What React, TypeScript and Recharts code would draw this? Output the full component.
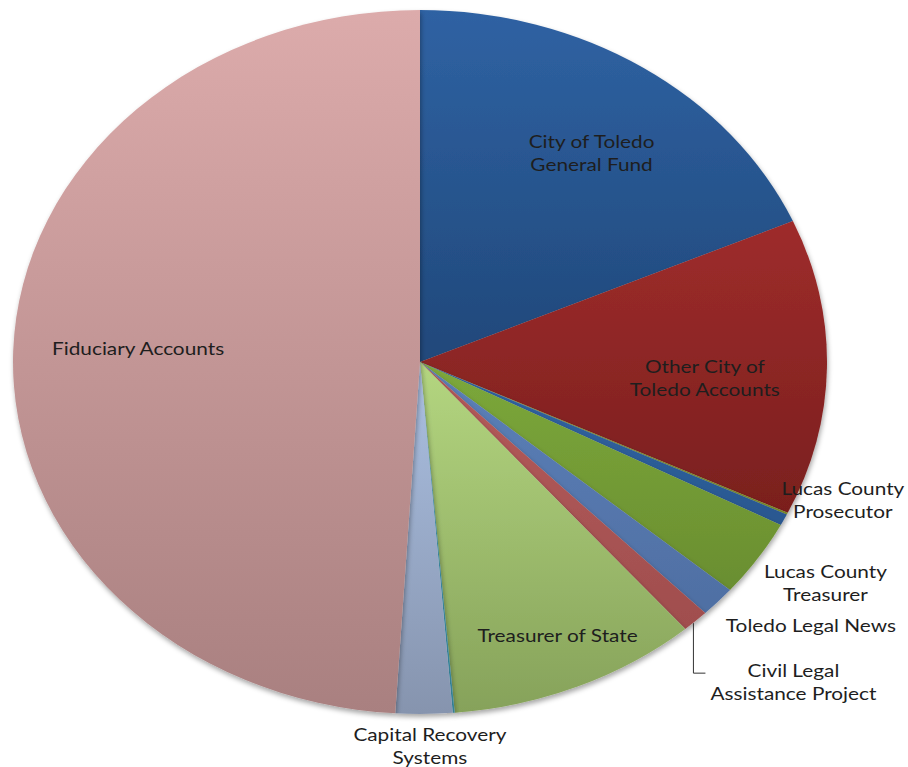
import React from 'react';
import { PieChart, Pie, Cell } from 'recharts';

// slices in clockwise order from 12 o'clock
const NAMES = [
    'City of Toledo General Fund',
    'Other City of Toledo Accounts',
    '',
    'Lucas County Prosecutor',
    'Lucas County Treasurer',
    'Toledo Legal News',
    'Civil Legal Assistance Project',
    'Treasurer of State',
    '',
    'Capital Recovery Systems',
    'Fiduciary Accounts',
];
const VALUES = [18.44, 13.61, 0.08, 0.53, 3.56, 1.42, 1.06, 9.94, 0.08, 2.25, 49.03];
const LABEL_LINES = [
    ['City of Toledo', 'General Fund'],
    ['Other City of', 'Toledo Accounts'],
    [],
    ['Lucas County', 'Prosecutor'],
    ['Lucas County', 'Treasurer'],
    ['Toledo Legal News'],
    ['Civil Legal', 'Assistance Project'],
    ['Treasurer of State'],
    [],
    ['Capital Recovery', 'Systems'],
    ['Fiduciary Accounts'],
];

// top / bottom gradient colours per slice
const COLORS = [
    ['#2f62a3', '#20487a'],
    ['#9e2c2b', '#7a1f1e'],
    ['#86972e', '#7a8a28'],
    ['#3063a3', '#2a5890'],
    ['#7ca83b', '#6a8e30'],
    ['#5c80b8', '#4f6fa3'],
    ['#b55b5b', '#a04e4e'],
    ['#b4d680', '#86a25a'],
    ['#4bacc6', '#4098b0'],
    ['#abc0e2', '#8694ae'],
    ['#dcabab', '#a98080'],
];

// label placement: k = fraction of the radius along the mid angle, then a nudge
const LABEL_POS = [
    { k: 0.77, dx: 0, dy: 17 },
    { k: 0.7, dx: 0, dy: 12 },
    null,
    { k: 1, dx: 59, dy: -20 },
    { k: 1, dx: 68, dy: 24 },
    { k: 1, dx: 93, dy: 23 },
    { k: 1, dx: 98, dy: 60 },
    { k: 0.86, dx: 2, dy: -6 },
    null,
    { k: 1, dx: 6, dy: 32 },
    { k: 0.693, dx: 0, dy: -7 },
];

const data = NAMES.map((name, i) => ({ name, value: VALUES[i] }));

const W = 908;
const H = 767;
const CX = 420;
const CY = 362;
const RX = 407;
const RY = 352;
const SQUASH = RY / RX;
const RAD = Math.PI / 180;

const pt = (cx: number, cy: number, r: number, a: number, k = 1) => ({
    x: cx + r * k * Math.cos(a * RAD),
    y: cy - r * SQUASH * k * Math.sin(a * RAD),
});

const EllipseSector = (props: any) => {
    const { cx, cy, outerRadius, startAngle, endAngle, fill } = props;
    const s = pt(cx, cy, outerRadius, startAngle);
    const e = pt(cx, cy, outerRadius, endAngle);
    const large = Math.abs(startAngle - endAngle) > 180 ? 1 : 0;
    const sweep = startAngle > endAngle ? 1 : 0;
    const d = `M${cx},${cy} L${s.x},${s.y} A${outerRadius},${outerRadius * SQUASH} 0 ${large} ${sweep} ${e.x},${e.y} Z`;
    return <path d={d} fill={fill} stroke="none" filter="url(#pieShadow)" />;
};

const renderLabel = (props: any) => {
    const { cx, cy, outerRadius, midAngle, index } = props;
    const pos = LABEL_POS[index];
    const lines = LABEL_LINES[index];
    if (!pos || !lines.length) return null;
    const edge = pt(cx, cy, outerRadius, midAngle);
    const p = pt(cx, cy, outerRadius, midAngle, pos.k);
    const x = p.x + pos.dx;
    const y = p.y + pos.dy;
    const lh = 23;
    const top = y - ((lines.length - 1) * lh) / 2;
    return (
        <g key={`lbl-${index}`}>
            {index === 6 && (
                <polyline
                    points={`${edge.x - 2},${edge.y + 2} ${edge.x - 2},${y - 8} ${edge.x + 10},${y - 8}`}
                    fill="none"
                    stroke="#333"
                    strokeWidth={1}
                />
            )}
            {/* the source image is stretched sideways, so the text is too */}
            <text
                transform={`translate(${x},0) scale(${(1 / SQUASH).toFixed(3)},1)`}
                x={0}
                textAnchor="middle"
                fontFamily="Lato, 'Open Sans', sans-serif"
                fontSize={18}
                fill="#1e1e1e"
            >
                {lines.map((ln, j) => (
                    <tspan key={j} x={0} y={top + j * lh} dominantBaseline="central">
                        {ln}
                    </tspan>
                ))}
            </text>
        </g>
    );
};

export default function App() {
    return (
        <div style={{ position: 'absolute', left: 0, top: 0, background: '#fff' }}>
            <PieChart width={W} height={H} margin={{ top: 0, right: 0, bottom: 0, left: 0 }}>
                <defs>
                    <filter id="pieShadow" x="-10%" y="-10%" width="120%" height="130%">
                        <feDropShadow dx="1" dy="3" stdDeviation="2.5" floodColor="#000" floodOpacity="0.35" />
                    </filter>
                    {COLORS.map((c, i) => (
                        <linearGradient key={i} id={`grad${i}`} x1="0" y1="0" x2="0" y2="1">
                            <stop offset="0%" stopColor={c[0]} />
                            <stop offset="100%" stopColor={c[1]} />
                        </linearGradient>
                    ))}
                </defs>
                <Pie
                    data={data}
                    dataKey="value"
                    nameKey="name"
                    cx={CX}
                    cy={CY}
                    innerRadius={0}
                    outerRadius={RX}
                    startAngle={90}
                    endAngle={-270}
                    stroke="none"
                    shape={EllipseSector}
                    inactiveShape={EllipseSector}
                    activeShape={EllipseSector}
                    label={renderLabel}
                    labelLine={false}
                    isAnimationActive={false}
                >
                    {data.map((d, i) => (
                        <Cell key={d.name + i} fill={`url(#grad${i})`} stroke="none" />
                    ))}
                </Pie>
            </PieChart>
        </div>
    );
}
